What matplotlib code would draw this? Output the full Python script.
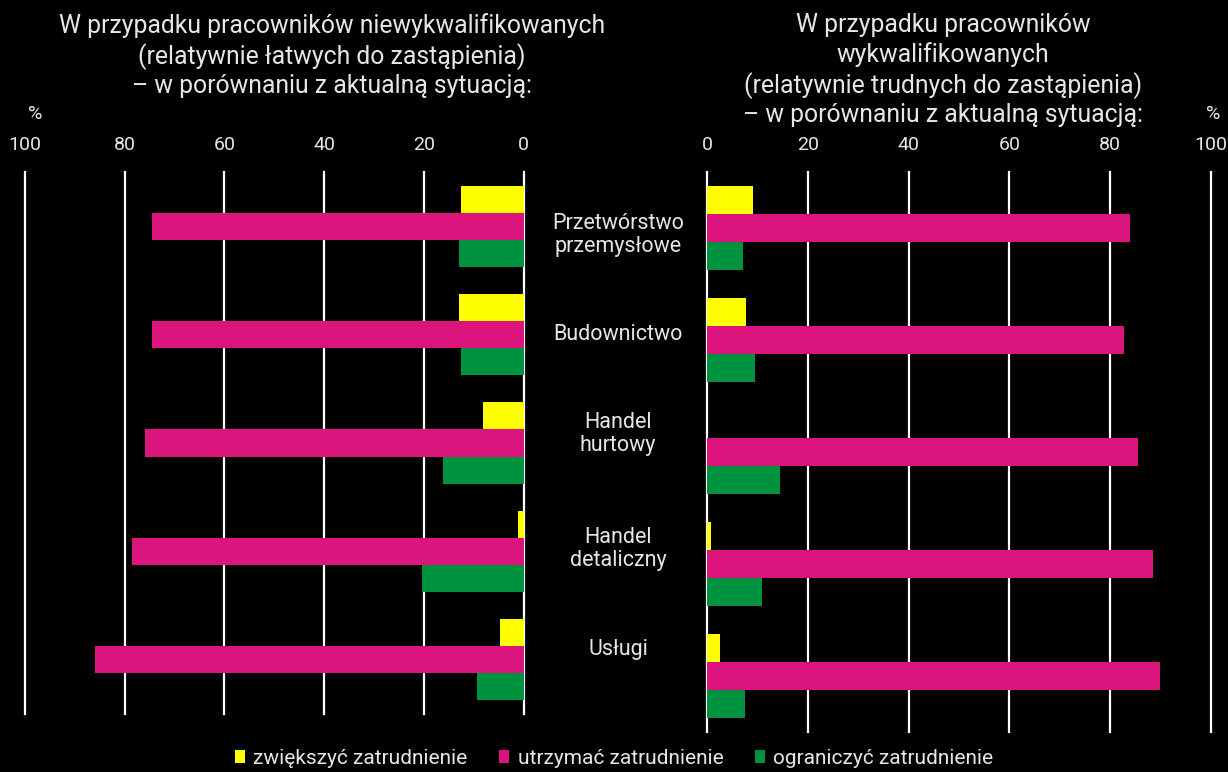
import matplotlib
matplotlib.use("Agg")
import matplotlib.pyplot as plt
import matplotlib.transforms as mtransforms
from matplotlib.patches import Patch
import numpy as np

plt.rcParams["font.family"] = ["Roboto", "DejaVu Sans"]

# Data
categories = ["Przetwórstwo\nprzemysłowe", "Budownictwo", "Handel\nhurtowy",
              "Handel\ndetaliczny", "Usługi"]
series_names = ["zwiększyć zatrudnienie", "utrzymać zatrudnienie", "ograniczyć zatrudnienie"]

# unskilled workers (left panel)
unskilled_increase = [12.5, 13.0, 8.1, 1.2, 4.7]
unskilled_keep = [74.6, 74.6, 76.0, 78.5, 85.9]
unskilled_reduce = [13.0, 12.5, 16.1, 20.4, 9.3]

# skilled workers (right panel)
skilled_increase = [9.0, 7.6, 0.0, 0.8, 2.6]
skilled_keep = [83.9, 82.8, 85.6, 88.5, 90.0]
skilled_reduce = [7.1, 9.5, 14.4, 10.8, 7.4]

ticks = [0, 20, 40, 60, 80, 100]

colors = ["#FFFF00", "#DC147D", "#00933F"]
text_col = "#E6E6E6"
bg = "black"

W, H = 1228, 772
fig = plt.figure(figsize=(W / 100, H / 100), dpi=100, facecolor=bg)

# axes placement in pixels
ax_l = fig.add_axes([25 / W, 1 - 714 / H, (523.5 - 25) / W, 542 / H])
ax_r = fig.add_axes([707.3 / W, 1 - 732 / H, (1210.6 - 707.3) / W, 560 / H])

y = np.arange(len(categories))
h = 0.25

# vertical pixel positions of the category labels between the panels
label_y_px = [235, 335, 434, 549, 649]


def draw_panel(ax, inc, keep, red, invert_x):
    ax.set_facecolor(bg)
    for t in ticks:
        ax.axvline(t, color="white", lw=1.6, zorder=1, clip_on=False)
    for vals, off, c in zip([inc, keep, red], [-h, 0, h], colors):
        ax.barh(y + off, vals, height=h, color=c, zorder=2)
    ax.set_ylim(4.5, -0.5)
    if invert_x:
        ax.set_xlim(100, 0)
    else:
        ax.set_xlim(0, 100)
    ax.xaxis.tick_top()
    ax.set_xticks(ticks)
    ax.set_xticklabels([str(t) for t in ticks])
    ax.tick_params(axis="x", length=0, pad=13, labelsize=14, colors=text_col)
    ax.set_yticks([])
    for s in ax.spines.values():
        s.set_visible(False)


draw_panel(ax_l, unskilled_increase, unskilled_keep, unskilled_reduce, True)
draw_panel(ax_r, skilled_increase, skilled_keep, skilled_reduce, False)

# "%" markers above the 100 ticks
for ax, xpos in [(ax_l, 98), (ax_r, 100.5)]:
    tr = mtransforms.blended_transform_factory(ax.transData, fig.transFigure)
    ax.text(xpos, 1 - 114 / H, "%", transform=tr, color=text_col,
            fontsize=14, ha="center", va="center")

# category labels in the gap between panels
for cat, ypx in zip(categories, label_y_px):
    fig.text(618 / W, 1 - ypx / H, cat, ha="center", va="center",
             color=text_col, fontsize=15.5, linespacing=1.1)

# panel titles
fig.text(332 / W, 1 - 13 / H,
         "W przypadku pracowników niewykwalifikowanych\n(relatywnie łatwych do zastąpienia)\n– w porównaniu z aktualną sytuacją:",
         ha="center", va="top", color=text_col, fontsize=17.8, linespacing=1.24)
fig.text(943 / W, 1 - 13 / H,
         "W przypadku pracowników\nwykwalifikowanych\n(relatywnie trudnych do zastąpienia)\n– w porównaniu z aktualną sytuacją:",
         ha="center", va="top", color=text_col, fontsize=17.8, linespacing=1.24)

# legend at the bottom
handles = [Patch(facecolor=c, edgecolor="none") for c in colors]
leg = fig.legend(handles, series_names, loc="center", bbox_to_anchor=(0.5, 1 - 758 / H),
                 ncol=3, frameon=False, fontsize=15, labelcolor=text_col,
                 handlelength=0.5, handleheight=0.6, handletextpad=0.4, columnspacing=1.5)

fig.savefig("out.png", dpi=100, facecolor=bg)
